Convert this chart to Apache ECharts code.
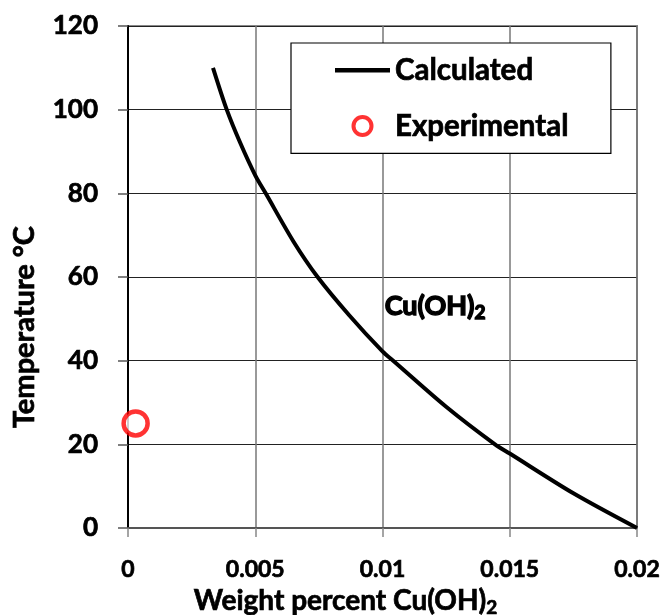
<!DOCTYPE html>
<html>
<head>
<meta charset="utf-8">
<script src="https://cdn.jsdelivr.net/npm/echarts@6/dist/echarts.min.js"></script>
<style>
  html, body { margin: 0; padding: 0; background: #fff; }
  #chart { width: 664px; height: 615px; }
</style>
</head>
<body>
<div id="chart"></div>
<script>
// calculated solubility curve
const calcX = [0.00334, 0.00388, 0.0044, 0.005, 0.00541, 0.0065, 0.00745, 0.0087, 0.01, 0.01042, 0.0125, 0.01442, 0.015, 0.0175, 0.02];
const calcY = [110, 100, 92.2, 84.3, 80, 68.5, 60, 50.8, 42.2, 40, 29, 20, 17.8, 8.3, 0];
// experimental point
const expX = [0.0003];
const expY = [25];

const FONT = 'Lato';
const W = 'bold';
// slight outline to get the heavier weight of the original
const heavy = { textBorderColor: '#000', textBorderWidth: 0.7 };

const chart = echarts.init(document.getElementById('chart'));
const option = {
  backgroundColor: '#fff',
  animation: false,
  grid: {
    left: 128, top: 26, right: 27, bottom: 87,
    containLabel: false, outerBoundsMode: 'none',
    show: true, borderColor: '#888', borderWidth: 2
  },
  legend: {
    orient: 'vertical',
    left: 291, top: 43,
    padding: [12, 42, 12, 44],
    borderColor: '#000', borderWidth: 1.2,
    backgroundColor: '#fff',
    itemWidth: 55, itemHeight: 18, itemGap: 25,
    textStyle: Object.assign({ fontFamily: FONT, fontWeight: W, fontSize: 29.5, color: '#000' }, heavy),
    data: [
      { name: 'Calculated', icon: 'path://M0,0L55,0L55,4.5L0,4.5Z', itemStyle: { color: '#000' } },
      { name: 'Experimental', itemStyle: { borderWidth: 4, borderColor: '#ff0000', color: '#fff' } }
    ]
  },
  xAxis: {
    type: 'value',
    min: 0, max: 0.02, interval: 0.005,
    name: 'Weight percent Cu(OH){sub|2}',
    nameLocation: 'middle',
    nameGap: 42,
    nameTextStyle: Object.assign({
      fontFamily: FONT, fontWeight: W, fontSize: 28, color: '#000',
      padding: [0, 74, 0, 0],
      rich: {
        sub: Object.assign({ fontFamily: FONT, fontWeight: W, fontSize: 19, color: '#000', padding: [14, 0, 0, 0] }, heavy)
      }
    }, heavy),
    axisLine: { lineStyle: { color: '#555', width: 2 } },
    axisTick: { show: true, length: 9, lineStyle: { color: '#888', width: 1.5 } },
    axisLabel: Object.assign({
      margin: 30, fontFamily: FONT, fontWeight: W, fontSize: 23, color: '#000',
      formatter: v => String(+v.toFixed(3))
    }, heavy),
    splitLine: { show: true, lineStyle: { color: '#777', width: 1.5 } }
  },
  yAxis: {
    type: 'value',
    min: 0, max: 120, interval: 20,
    name: 'Temperature °C',
    nameLocation: 'middle',
    nameRotate: 90,
    nameGap: 89,
    nameTextStyle: Object.assign({
      fontFamily: FONT, fontWeight: W, fontSize: 29, color: '#000',
      padding: [0, 100, 0, 0]
    }, heavy),
    axisLine: { show: true, lineStyle: { color: '#000', width: 2 } },
    axisTick: { show: true, length: 10, lineStyle: { color: '#555', width: 1.5 } },
    axisLabel: Object.assign({ margin: 30, fontFamily: FONT, fontWeight: W, fontSize: 26, color: '#000' }, heavy),
    splitLine: { show: true, lineStyle: { color: '#222', width: 1 } }
  },
  graphic: [{
    type: 'text',
    left: 384, top: 292,
    style: {
      text: 'Cu(OH){sub|2}',
      fontFamily: FONT, fontWeight: W, fontSize: 27, fill: '#000',
      stroke: '#000', lineWidth: 1.4,
      rich: {
        sub: { fontFamily: FONT, fontWeight: W, fontSize: 19, fill: '#000', stroke: '#000', lineWidth: 1.4, padding: [14, 0, 0, 0] }
      }
    }
  }],
  series: [
    {
      name: 'Calculated',
      type: 'line',
      data: calcX.map((x, i) => [x, calcY[i]]),
      symbol: 'none',
      smooth: 0.3,
      lineStyle: { color: '#000', width: 4 },
      itemStyle: { color: '#000' },
      z: 3
    },
    {
      name: 'Experimental',
      type: 'scatter',
      data: expX.map((x, i) => [x, expY[i]]),
      symbol: 'circle',
      symbolSize: 24,
      itemStyle: { color: '#fff', borderColor: '#ff0000', borderWidth: 4.5 },
      z: 4
    }
  ]
};
chart.setOption(option);
</script>
</body>
</html>
